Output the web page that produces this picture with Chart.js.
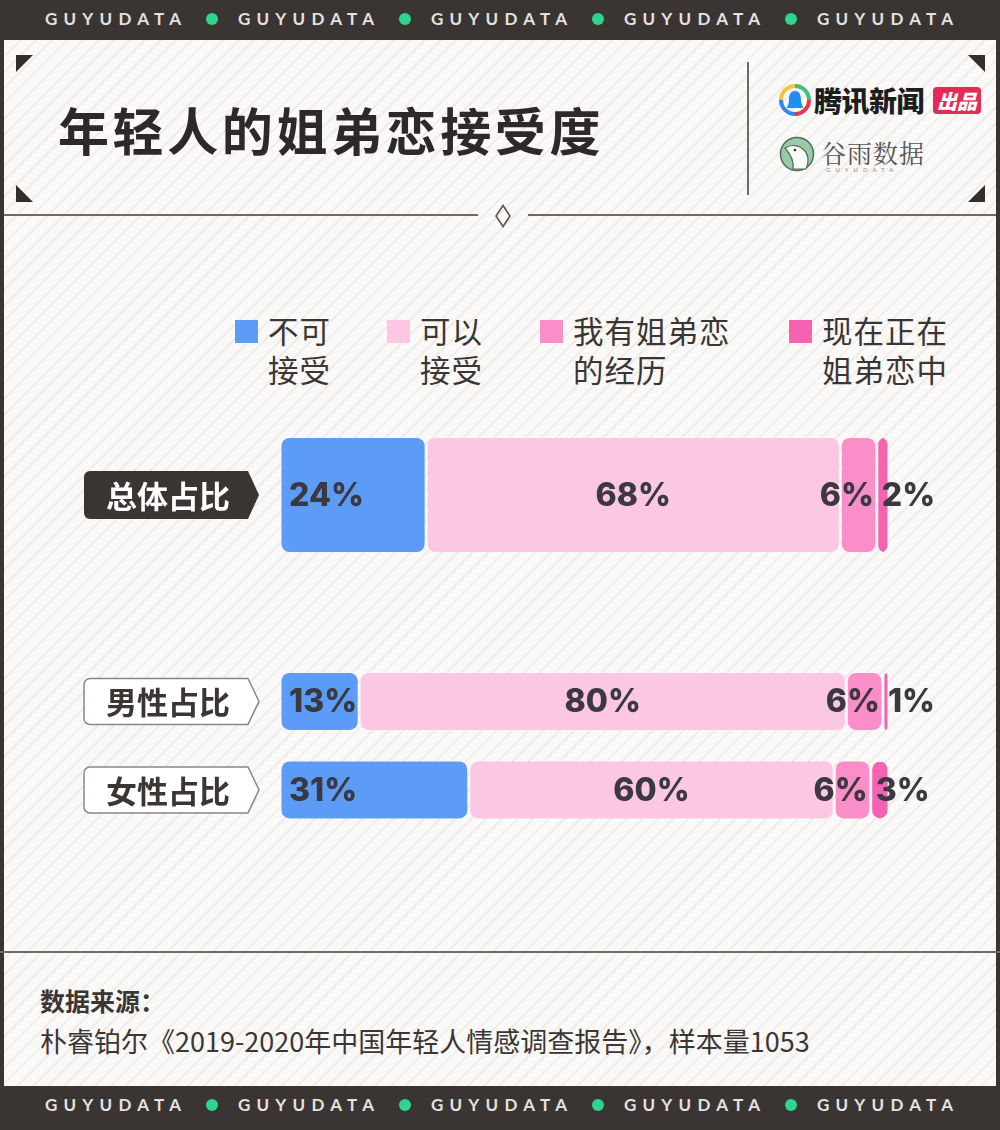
<!DOCTYPE html>
<html>
<head>
<meta charset="utf-8">
<script src="https://cdn.jsdelivr.net/npm/chart.js@4.4.1/dist/chart.umd.min.js"></script>
<style>
  html, body { margin: 0; padding: 0; }
  body {
    width: 1000px; height: 1130px; position: relative; overflow: hidden;
    font-family: "Noto Sans CJK SC", "Noto Sans", sans-serif; color: #3b3534;
    background-color: #faf9f7;
    background-image: repeating-linear-gradient(135deg, #faf9f7 0px, #faf9f7 9px, #efedea 9px, #efedea 11px);
  }
  .band { position: absolute; left: 0; width: 1000px; background: #3a3432; }
  .band span.t { position: absolute; top: 9px; font-family: Lato, sans-serif; font-weight: 700; font-size: 17px; line-height: 20px; letter-spacing: 6.2px; color: #e4e2e0; }
  .band span.d { position: absolute; top: 13px; width: 12px; height: 12px; border-radius: 50%; background: #2fd58d; }
  .side { position: absolute; top: 0; height: 1130px; width: 4px; background: #3a3432; }
  .hline { position: absolute; height: 2px; background: #6f6a68; }
  .tri { position: absolute; width: 0; height: 0; }
  #title { position: absolute; left: 58px; top: 92px; font-size: 51px; font-weight: 700; letter-spacing: 3.6px; color: #2e2928; }
  .legend { position: absolute; top: 311px; font-size: 30.5px; line-height: 39px; letter-spacing: 1px; color: #3b3534; }
  .legend i { position: absolute; left: -33px; top: 9px; width: 23px; height: 23px; }
  #src1 { position: absolute; left: 40px; top: 982px; font-size: 25px; font-weight: 700; color: #3b3534; }
  #src2 { position: absolute; left: 40px; top: 1021px; font-size: 27px; color: #3b3534; }
  #chart { position: absolute; left: 0; top: 240px; }
</style>
</head>
<body>
<div class="band" id="topBand" style="top:0;height:40px"></div>
<div class="band" id="botBand" style="top:1086px;height:44px"></div>
<div class="side" style="left:0"></div>
<div class="side" style="left:996px"></div>

<div class="tri" style="left:16px;top:55px;border-top:17px solid #332d2c;border-right:17px solid transparent"></div>
<div class="tri" style="left:968px;top:55px;border-top:17px solid #332d2c;border-left:17px solid transparent"></div>
<div class="tri" style="left:16px;top:185px;border-bottom:17px solid #332d2c;border-right:17px solid transparent"></div>
<div class="tri" style="left:968px;top:185px;border-bottom:17px solid #332d2c;border-left:17px solid transparent"></div>

<div id="title">年轻人的姐弟恋接受度</div>
<div style="position:absolute;left:747px;top:62px;width:2px;height:133px;background:#6f6a68"></div>

<svg style="position:absolute;left:778px;top:83px" width="34" height="34" viewBox="0 0 34 34">
  <path d="M17 3 A14 14 0 0 1 31 17" stroke="#3cc07a" stroke-width="4" fill="none"/>
  <path d="M31 17 A14 14 0 0 1 17 31" stroke="#e8364c" stroke-width="4" fill="none"/>
  <path d="M17 31 A14 14 0 0 1 3 17" stroke="#2d8ae8" stroke-width="4" fill="none"/>
  <path d="M3 17 A14 14 0 0 1 17 3" stroke="#f4c634" stroke-width="4" fill="none"/>
  <path d="M17 8 C12 8 11 13 11 17 C11 21 9 23 9 25 L25 25 C25 23 23 21 23 17 C23 13 22 8 17 8 Z" fill="#1f8ef0"/>
</svg>
<div style="position:absolute;left:814px;top:80px;font-size:28px;font-weight:900;color:#1d1d1d;letter-spacing:-0.5px">腾讯新闻</div>
<div style="position:absolute;left:933px;top:87px;width:48px;height:27px;background:#e52a55;border-radius:4px;color:#fff;font-size:20px;font-weight:900;line-height:27px;text-align:center;font-style:italic">出品</div>

<svg style="position:absolute;left:779px;top:136px" width="36" height="36" viewBox="0 0 36 36">
  <circle cx="18" cy="18" r="16.5" fill="#9acba8" stroke="#4e6a58" stroke-width="1.5"/>
  <path d="M6 12 C12 8 20 9 25 14 C30 19 30 27 27 33 L14 33 C15 27 13 20 6 12 Z" fill="#fbfbf9" stroke="#4e6a58" stroke-width="1.2"/>
  <circle cx="16" cy="14" r="1.3" fill="#333"/>
</svg>
<div style="position:absolute;left:821px;top:134px;font-size:25px;font-family:'Noto Serif CJK SC','Noto Sans CJK SC',serif;color:#555;letter-spacing:1px">谷雨数据</div>
<div style="position:absolute;left:826px;top:166px;font-size:6px;letter-spacing:5px;color:#888;font-family:Lato">GUYUDATA</div>

<div class="hline" style="left:4px;top:214px;width:474px"></div>
<div class="hline" style="left:528px;top:214px;width:468px"></div>
<svg style="position:absolute;left:494px;top:204px" width="18" height="24" viewBox="0 0 18 24">
  <path d="M9 1.5 L16 12 L9 22.5 L2 12 Z" fill="none" stroke="#5b5654" stroke-width="1.6"/>
</svg>

<div id="legend"></div>

<canvas id="chart" width="1000" height="720"></canvas>

<div class="hline" style="left:0;top:951px;width:1000px"></div>
<div id="src1">数据来源：</div>
<div id="src2">朴睿铂尔《2019-2020年中国年轻人情感调查报告》，样本量1053</div>

<script>
const categories = ['总体占比', '男性占比', '女性占比'];
const seriesNames = [['不可', '接受'], ['可以', '接受'], ['我有姐弟恋', '的经历'], ['现在正在', '姐弟恋中']];
const notAccept = [24, 13, 31];
const accept = [68, 80, 60];
const hadRelation = [6, 6, 6];
const inRelation = [2, 1, 3];

const seriesValues = [notAccept, accept, hadRelation, inRelation];
const colors = ['#5c9cf6', '#fcc7e2', '#f98ec8', '#f562b0'];

// layout: where each row sits on the (hidden) y scale, and its bar thickness
const rowPos = [8.5, 15.38, 18.33];
const rowThick = [114, 57, 57];
const rowGroups = [[0], [1, 2]];

// bands
for (const id of ['topBand', 'botBand']) {
  const band = document.getElementById(id);
  for (let k = 0; k < 5; k++) {
    const t = document.createElement('span');
    t.className = 't';
    t.textContent = 'GUYUDATA';
    t.style.left = (45 + k * 193) + 'px';
    band.appendChild(t);
    if (k < 4) {
      const d = document.createElement('span');
      d.className = 'd';
      d.style.left = (206 + k * 193) + 'px';
      band.appendChild(d);
    }
  }
}

// legend
const legendX = [268, 420, 573, 822];
const legendEl = document.getElementById('legend');
seriesNames.forEach((lines, i) => {
  const div = document.createElement('div');
  div.className = 'legend';
  div.style.left = legendX[i] + 'px';
  div.innerHTML = '<i style="background:' + colors[i] + '"></i>' + lines.join('<br>');
  legendEl.appendChild(div);
});

// floating segments: start = sum of previous series
const datasets = [];
seriesValues.forEach((vals, s) => {
  rowGroups.forEach(group => {
    datasets.push({
      label: seriesNames[s].join(''),
      series: s,
      data: group.map(r => {
        let start = 0;
        for (let j = 0; j < s; j++) start += seriesValues[j][r];
        return { x: [start, start + vals[r]], y: rowPos[r], row: r };
      }),
      backgroundColor: colors[s],
      barThickness: rowThick[group[0]] + 3,
      inflateAmount: -1.5,
      borderRadius: 8,
      borderSkipped: false,
      grouped: false,
    });
  });
});

const tagPlugin = {
  id: 'tags',
  afterDatasetsDraw(chart) {
    const ctx = chart.ctx;
    const y = chart.scales.y;
    categories.forEach((name, r) => {
      const cy = y.getPixelForValue(rowPos[r]);
      const h = r === 0 ? 48 : 46;
      const x0 = 84, x1 = 248, tip = 259, rad = 6;
      ctx.save();
      ctx.beginPath();
      ctx.moveTo(x0 + rad, cy - h / 2);
      ctx.lineTo(x1, cy - h / 2);
      ctx.lineTo(tip, cy);
      ctx.lineTo(x1, cy + h / 2);
      ctx.lineTo(x0 + rad, cy + h / 2);
      ctx.arcTo(x0, cy + h / 2, x0, cy + h / 2 - rad, rad);
      ctx.lineTo(x0, cy - h / 2 + rad);
      ctx.arcTo(x0, cy - h / 2, x0 + rad, cy - h / 2, rad);
      ctx.closePath();
      if (r === 0) {
        ctx.fillStyle = '#3a3432';
        ctx.fill();
      } else {
        ctx.fillStyle = '#ffffff';
        ctx.fill();
        ctx.strokeStyle = '#8c8785';
        ctx.lineWidth = 1.5;
        ctx.stroke();
      }
      ctx.fillStyle = r === 0 ? '#ffffff' : '#3b3534';
      ctx.font = '700 31px "Noto Sans CJK SC"';
      ctx.textAlign = 'center';
      ctx.textBaseline = 'middle';
      ctx.fillText(name, 168, cy + 1);
      ctx.restore();
    });
  }
};

const valuePlugin = {
  id: 'values',
  afterDatasetsDraw(chart) {
    const ctx = chart.ctx;
    ctx.save();
    ctx.font = '800 32px Inter, Lato, sans-serif';
    ctx.fillStyle = '#3b3840';
    ctx.textBaseline = 'middle';
    chart.data.datasets.forEach((ds, di) => {
      const meta = chart.getDatasetMeta(di);
      meta.data.forEach((bar, k) => {
        const r = ds.data[k].row;
        const txt = seriesValues[ds.series][r] + '%';
        let x;
        if (ds.series === 0) { ctx.textAlign = 'left'; x = bar.base + 9; }
        else if (ds.series === 1) { ctx.textAlign = 'center'; x = (bar.base + bar.x) / 2; }
        else if (ds.series === 2) { ctx.textAlign = 'right'; x = bar.x - 3; }
        else { ctx.textAlign = 'left'; x = bar.base + 5; }
        ctx.fillText(txt, x, bar.y + 1);
      });
    });
    ctx.restore();
  }
};

new Chart(document.getElementById('chart'), {
  type: 'bar',
  data: { datasets },
  options: {
    indexAxis: 'y',
    responsive: false,
    devicePixelRatio: 1,
    animation: false,
    layout: { padding: { left: 280, right: 111, top: 0, bottom: 0 } },
    plugins: { legend: { display: false }, tooltip: { enabled: false } },
    scales: {
      x: { type: 'linear', min: 0, max: 100, display: false },
      y: { type: 'linear', min: 0, max: 24, reverse: true, offset: false, display: false }
    }
  },
  plugins: [tagPlugin, valuePlugin]
});
</script>
</body>
</html>
